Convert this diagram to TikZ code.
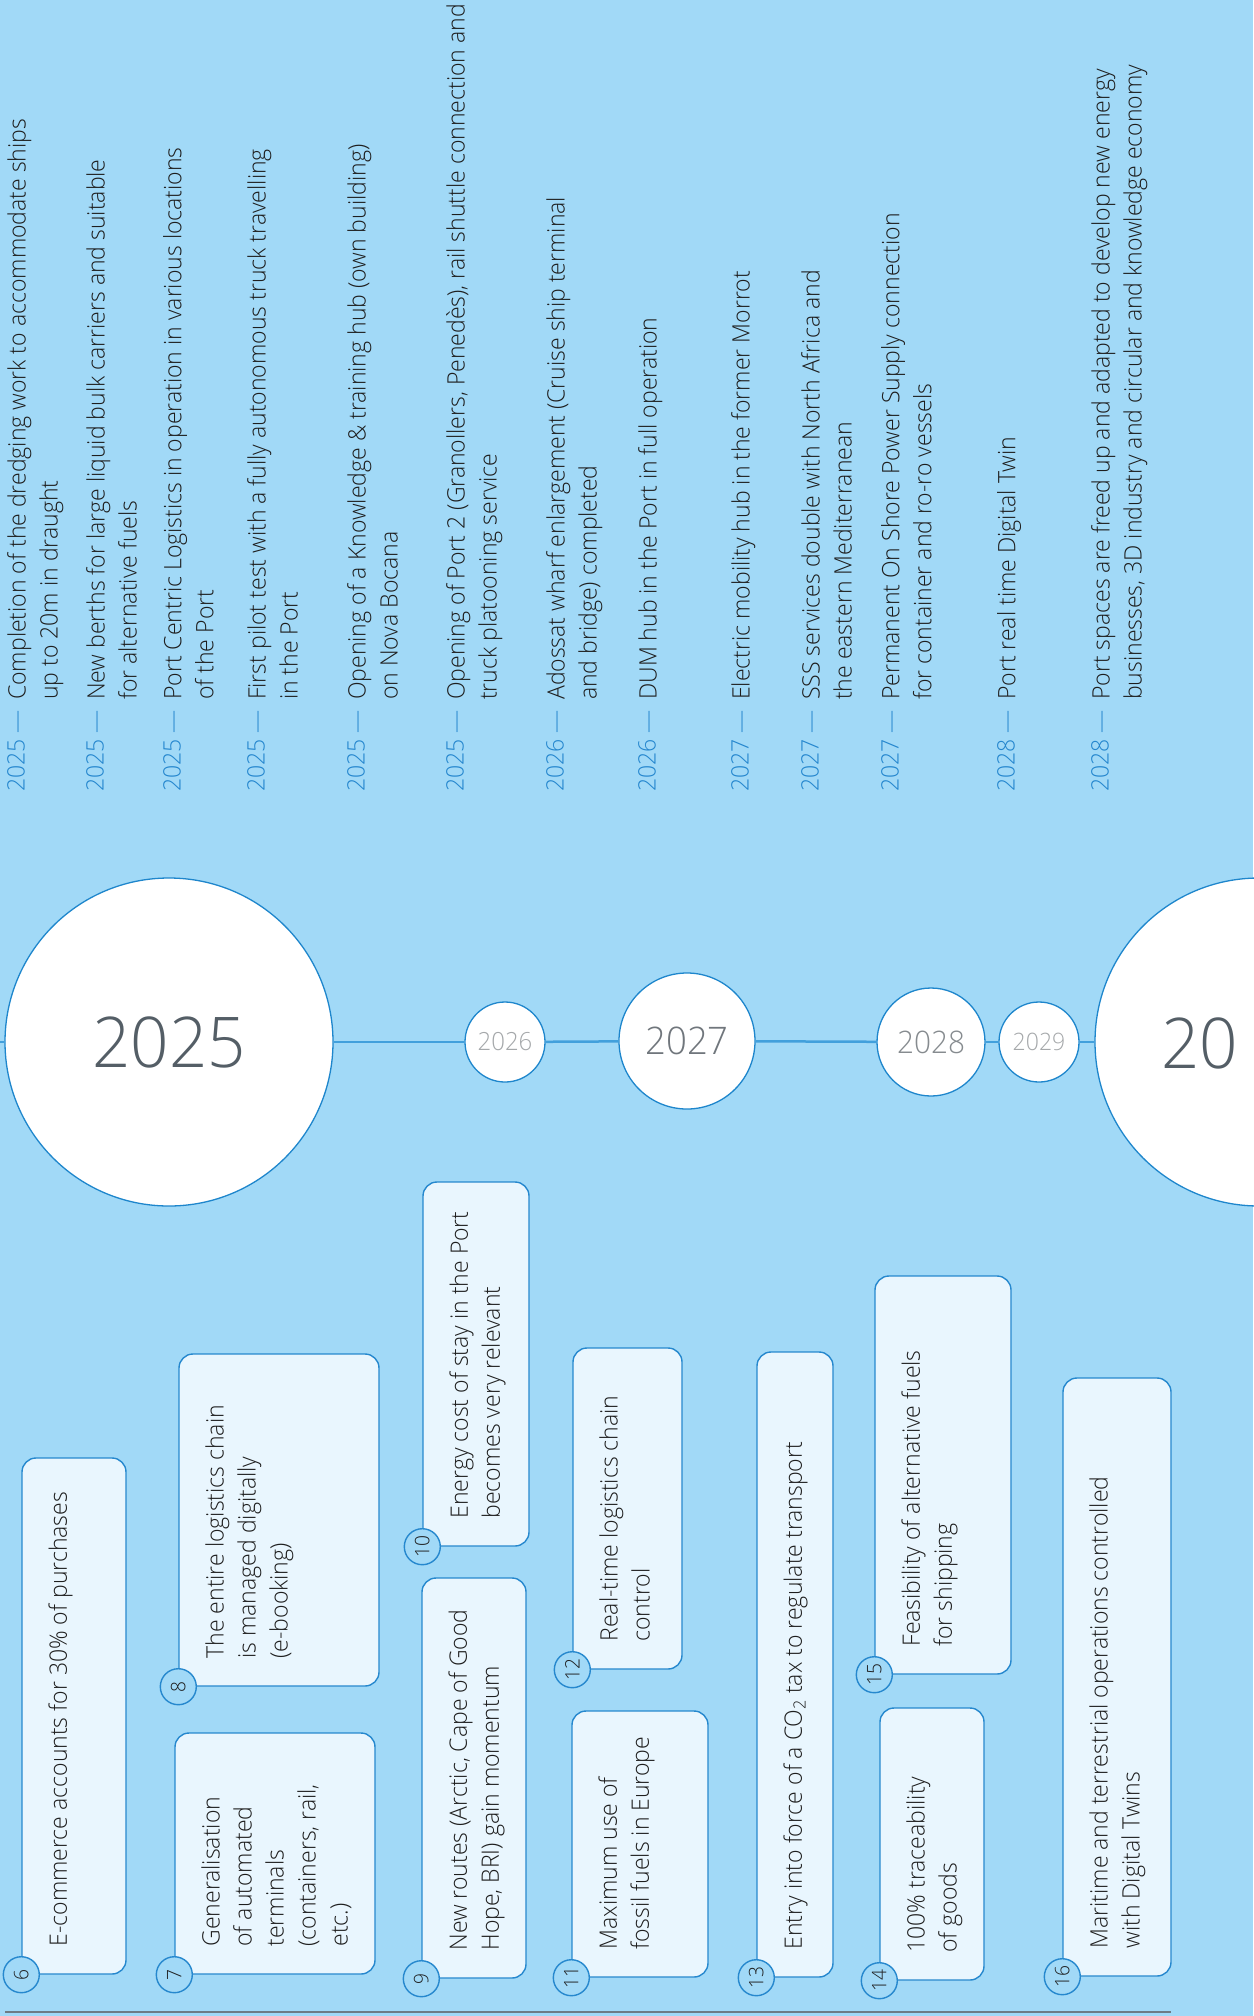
\documentclass[tikz,border=0pt]{standalone}
\usepackage{fontspec}
\IfFontExistsTF{Open Sans Light}
  {\setmainfont{Open Sans Light}[FakeStretch=0.96]}
  {\setmainfont{Open Sans}[FakeStretch=0.92]}
\usetikzlibrary{calc,fit}
\definecolor{bgblue}{RGB}{161,217,247}
\definecolor{boxfill}{RGB}{233,246,254}
\definecolor{boxblue}{RGB}{38,136,206}
\definecolor{circblue}{RGB}{30,134,204}
\definecolor{tlblue}{RGB}{66,160,220}
\definecolor{yearblue}{RGB}{36,134,206}
\definecolor{txtgrey}{RGB}{30,30,30}
\definecolor{basegrey}{RGB}{110,124,133}
\definecolor{yrdark}{RGB}{84,94,102}
\definecolor{yrmid}{RGB}{112,118,124}
\definecolor{yrmid2}{RGB}{134,139,143}
\definecolor{yrlight}{RGB}{165,168,170}
\newcommand\ibx[7]{%
  \node[ibox, fit={(#2,#3) (#4,#5)}] (b#1) {};
  \node[itext] (t#1) at ([xshift=27pt,yshift=28pt]b#1.south west) {#7};
  \node[numc] (n#1) at (b#1.south west) {#6};
}
\newcommand\itm[4]{%
  \node[yr] (y#1) at (#2,792) {#3 —};
  \node[itext] (i#1) at (#2,700) {#4};
}
\begin{document}
\begin{tikzpicture}[x=1pt,y=-1pt,
  ibox/.style={draw=boxblue, line width=1.4pt, fill=boxfill, rounded corners=14pt, inner sep=0pt},
  itext/.style={rotate=90, align=left, inner sep=0pt, text=txtgrey, font=\fontsize{24}{32}\selectfont, anchor=north west},
  numc/.style={circle, draw=boxblue, line width=1.4pt, fill=bgblue, minimum size=36pt, inner sep=0pt, rotate=90, font=\fontsize{20}{20}\selectfont, text=txtgrey},
  yearc/.style={circle, draw=circblue, line width=1.3pt, fill=white, inner sep=0pt},
  yr/.style={rotate=90, inner sep=0pt, anchor=north west, text=yearblue, font=\fontsize{24}{32}\selectfont},
  tl/.style={draw=tlblue, line width=2.5pt}]
\useasboundingbox (0,0) rectangle (1253,2016);
\fill[bgblue] (0,0) rectangle (1253,2016);

% timeline
\coordinate (tlstart) at (0,1042);
\node[yearc, minimum size=328pt, text=yrdark, font=\fontsize{70}{70}\selectfont] (c2025) at (169,1042) {2025};
\node[yearc, minimum size=80pt, text=yrlight, font=\fontsize{25}{25}\selectfont] (c2026) at (505,1042) {2026};
\node[yearc, minimum size=136pt, text=yrmid, font=\fontsize{38}{38}\selectfont] (c2027) at (687,1041) {2027};
\node[yearc, minimum size=108pt, text=yrmid2, font=\fontsize{31}{31}\selectfont] (c2028) at (931,1042) {2028};
\node[yearc, minimum size=80pt, text=yrlight, font=\fontsize{24}{24}\selectfont] (c2029) at (1039,1042) {2029};
\node[yearc, minimum size=328pt] (c2030) at (1259,1042) {};
\node[anchor=west, inner sep=0pt, text=yrdark, font=\fontsize{70}{70}\selectfont] (l2030) at (1161,1043) {20};
\draw[tl] (tlstart) -- (c2025);
\draw[tl] (c2025) -- (c2026);
\draw[tl] (c2026) -- (c2027);
\draw[tl] (c2027) -- (c2028);
\draw[tl] (c2028) -- (c2029);
\draw[tl] (c2029) -- (c2030);

% list of milestones
\itm{1}{7}{2025}{Completion of the dredging work to accommodate ships\\up to 20m in draught}
\itm{2}{86}{2025}{New berths for large liquid bulk carriers and suitable\\for alternative fuels}
\itm{3}{163}{2025}{Port Centric Logistics in operation in various locations\\of the Port}
\itm{4}{247}{2025}{First pilot test with a fully autonomous truck travelling\\in the Port}
\itm{5}{347}{2025}{Opening of a Knowledge \& training hub (own building)\\on Nova Bocana}
\itm{6}{446}{2025}{Opening of Port 2 (Granollers, Penedès), rail shuttle connection and\\truck platooning service}
\itm{7}{546}{2026}{Adossat wharf enlargement (Cruise ship terminal\\and bridge) completed}
\itm{8}{638}{2026}{DUM hub in the Port in full operation}
\itm{9}{731}{2027}{Electric mobility hub in the former Morrot}
\itm{10}{801}{2027}{SSS services double with North Africa and\\the eastern Mediterranean}
\itm{11}{881}{2027}{Permanent On Shore Power Supply connection\\for container and ro-ro vessels}
\itm{12}{997}{2028}{Port real time Digital Twin}
\itm{13}{1091}{2028}{Port spaces are freed up and adapted to develop new energy\\businesses, 3D industry and circular and knowledge economy}

% boxes
\ibx{6}{22}{1458}{126}{1974}{6}{E-commerce accounts for 30\% of purchases}
\ibx{7}{175}{1733}{375}{1974}{7}{Generalisation\\of automated\\terminals\\(containers, rail,\\etc.)}
\ibx{8}{179}{1354}{379}{1686}{8}{The entire logistics chain\\is managed digitally\\(e-booking)}
\ibx{9}{422}{1578}{526}{1978}{9}{New routes (Arctic, Cape of Good\\Hope, BRI) gain momentum}
\ibx{10}{423}{1182}{529}{1546}{10}{Energy cost of stay in the Port\\becomes very relevant}
\ibx{11}{572}{1711}{708}{1977}{11}{Maximum use of\\fossil fuels in Europe}
\ibx{12}{573}{1348}{682}{1669}{12}{Real-time logistics chain\\control}
\ibx{13}{757}{1352}{833}{1977}{13}{Entry into force of a CO\textsubscript{2} tax to regulate transport}
\ibx{14}{880}{1708}{984}{1980}{14}{100\% traceability\\of goods}
\ibx{15}{875}{1276}{1011}{1674}{15}{Feasibility of alternative fuels\\for shipping}
\ibx{16}{1063}{1378}{1171}{1976}{16}{Maritime and terrestrial operations controlled\\with Digital Twins}

% base line
\coordinate (bl1) at (5,2012);
\coordinate (bl2) at (1171,2012);
\draw[draw=basegrey, line width=2pt] (bl1) -- (bl2);
\end{tikzpicture}
\end{document}
